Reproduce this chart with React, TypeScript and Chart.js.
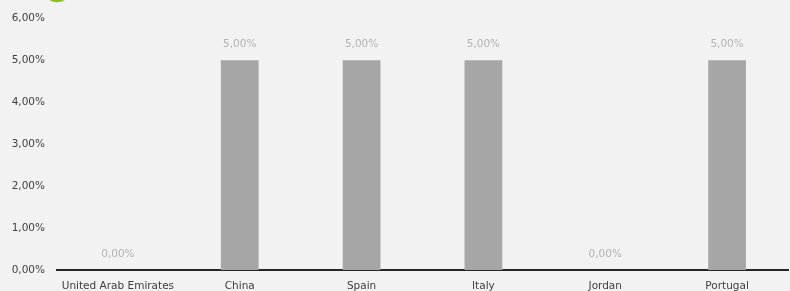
import React, { useEffect, useRef } from "react";
import { Chart, registerables } from "chart.js";

Chart.register(...registerables);

const categories = ["United Arab Emirates", "China", "Spain", "Italy", "Jordan", "Portugal"];
const values = [0, 5, 5, 5, 0, 5];
const yTicks = [0, 1, 2, 3, 4, 5, 6];

const fmt = (v: number) => v.toFixed(2).replace(".", ",") + "%";

const FONT = "'DejaVu Sans', Verdana, sans-serif";

const overlay = {
  id: "overlay",
  afterDatasetsDraw(chart: any) {
    const ctx = chart.ctx;
    const meta = chart.getDatasetMeta(0);
    ctx.save();
    ctx.font = `10.5px ${FONT}`;
    ctx.fillStyle = "#b3b3b3";
    ctx.textAlign = "center";
    ctx.textBaseline = "middle";
    meta.data.forEach((bar: any, i: number) => {
      ctx.fillText(fmt(values[i]), bar.x, bar.y - 16);
    });
    // decorative green arc at top
    ctx.beginPath();
    ctx.arc(57, -12, 13, 0, Math.PI * 2);
    ctx.lineWidth = 2.5;
    ctx.strokeStyle = "#8cc21f";
    ctx.stroke();
    ctx.restore();
  },
};

export default function App() {
  const ref = useRef<HTMLCanvasElement>(null);
  useEffect(() => {
    document.body.style.margin = "0";
    document.body.style.background = "#f2f2f2";
    const chart = new Chart(ref.current!, {
      type: "bar",
      data: {
        labels: categories,
        datasets: [
          {
            data: values,
            backgroundColor: "#a6a6a6",
            borderWidth: 0,
            barPercentage: 0.31,
            categoryPercentage: 1,
          },
        ],
      },
      options: {
        animation: false,
        responsive: false,
        maintainAspectRatio: false,
        layout: { padding: { top: 14, right: 2, left: 0, bottom: 0 } },
        plugins: { legend: { display: false }, tooltip: { enabled: false } },
        scales: {
          x: {
            grid: { display: false, drawTicks: false },
            border: { display: true, color: "#262626", width: 2 },
            ticks: { color: "#404040", font: { family: FONT, size: 10.5 }, padding: 10, maxRotation: 0, autoSkip: false },
            afterFit: (axis: any) => {
              axis.height = 21;
            },
          },
          y: {
            min: 0,
            max: 6,
            afterBuildTicks: (axis: any) => {
              axis.ticks = yTicks.map((v) => ({ value: v }));
            },
            grid: { display: false, drawTicks: false },
            border: { display: false },
            ticks: {
              color: "#404040",
              font: { family: FONT, size: 10.5 },
              padding: 12,
              callback: (v: any) => fmt(Number(v)),
            },
            afterFit: (axis: any) => {
              axis.width = 57;
            },
          },
        },
      },
      plugins: [overlay],
    });
    return () => chart.destroy();
  }, []);
  return (
    <div style={{ background: "#f2f2f2", width: 790, height: 291 }}>
      <canvas ref={ref} width={790} height={291} style={{ display: "block" }} />
    </div>
  );
}
